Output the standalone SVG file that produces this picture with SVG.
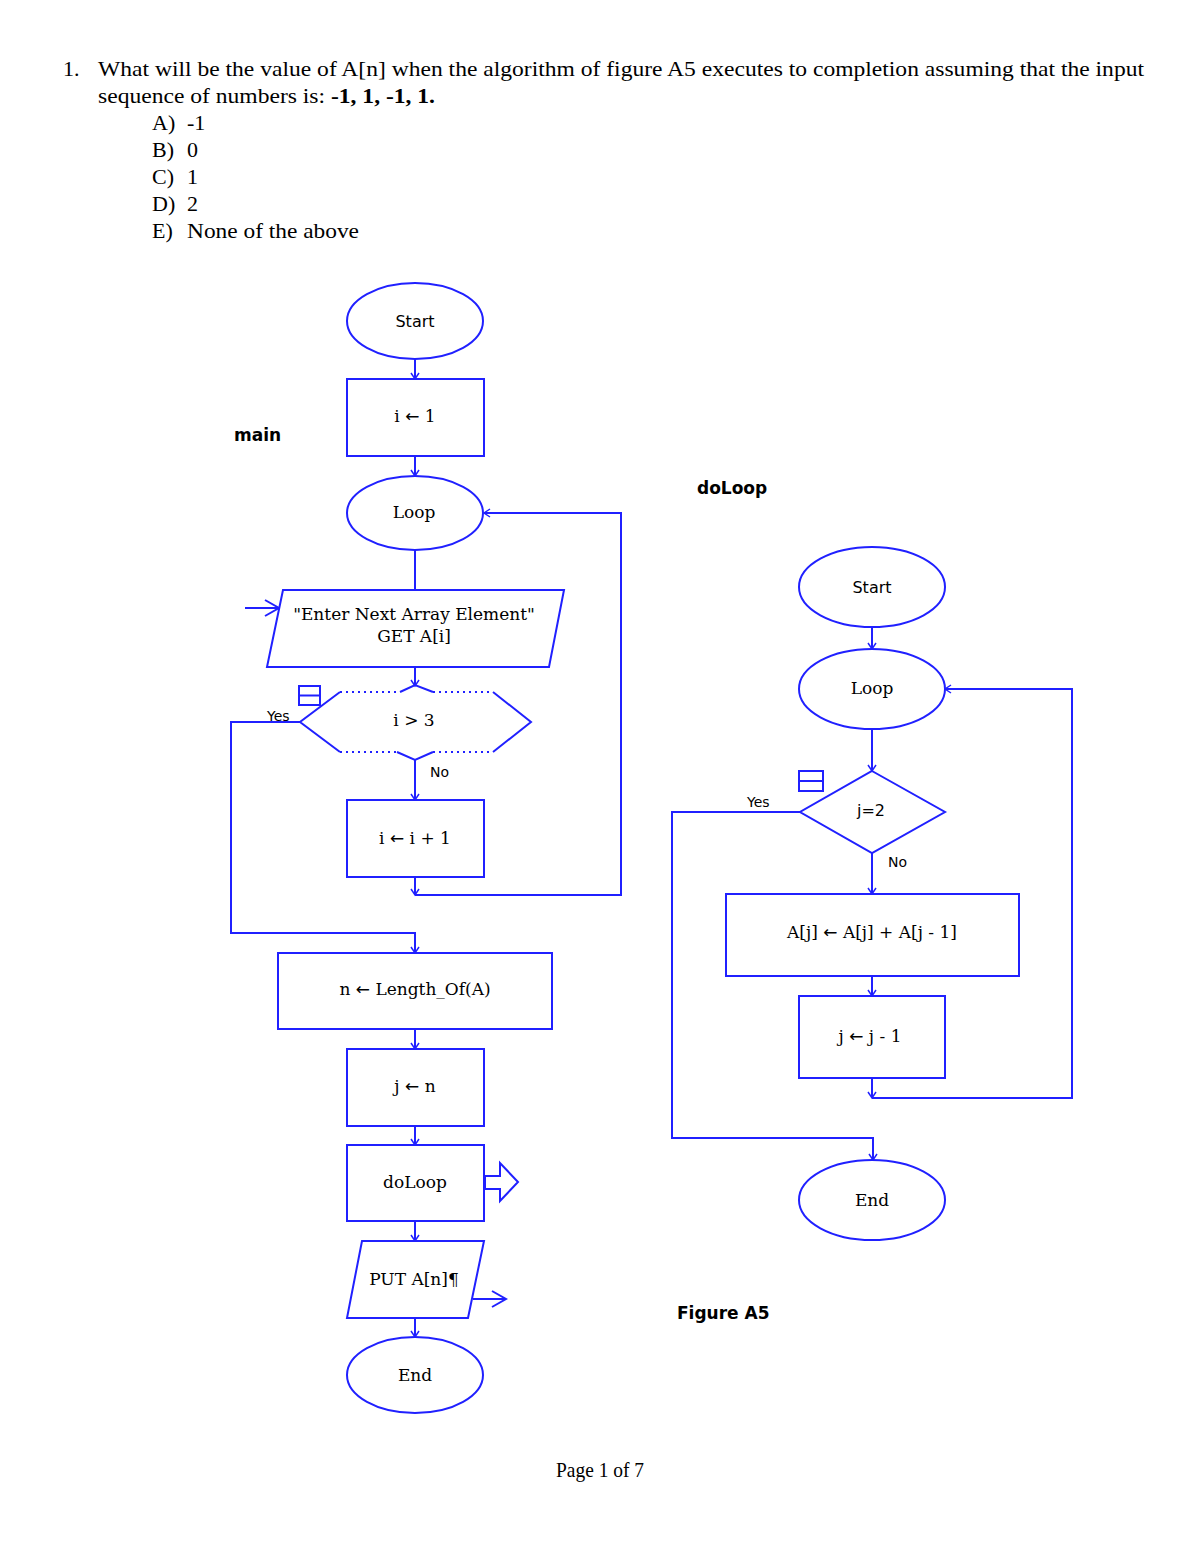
<svg xmlns="http://www.w3.org/2000/svg" width="1200" height="1553" viewBox="0 0 1200 1553">
<defs>
<style>
.s{fill:none;stroke:#2020ff;stroke-width:2}
.n{fill:#fff;stroke:#2020ff;stroke-width:2}
.c{fill:none;stroke:#2020ff;stroke-width:2}
.q{font-family:"Liberation Serif","Times New Roman",serif;font-size:22px;fill:#000}
.t{font-family:"DejaVu Serif","Liberation Serif",serif;font-size:17px;fill:#000;text-anchor:middle}
.a{font-family:"DejaVu Sans",sans-serif}
.v{font-family:"DejaVu Sans",Verdana,sans-serif;font-size:16px;fill:#000;text-anchor:middle}
.y{font-family:"DejaVu Sans",Verdana,sans-serif;font-size:14px;fill:#000}
.b{font-family:"DejaVu Sans",Verdana,sans-serif;font-size:17px;font-weight:bold;fill:#000}
</style>
<marker id="ah" markerWidth="12" markerHeight="12" refX="10" refY="6" orient="auto" markerUnits="userSpaceOnUse">
<path d="M4,2 L10,6 L4,10" fill="none" stroke="#2020ff" stroke-width="1.5"/>
</marker>
<marker id="oh" markerWidth="20" markerHeight="20" refX="18" refY="10" orient="auto" markerUnits="userSpaceOnUse">
<path d="M4,2 L18,10 L4,18" fill="none" stroke="#2020ff" stroke-width="2"/>
</marker>
</defs>
<rect width="1200" height="1553" fill="#fff"/>

<g id="question">
<text class="q" x="63" y="76">1.</text>
<text class="q" x="98" y="76" textLength="1046" lengthAdjust="spacingAndGlyphs">What will be the value of A[n] when the algorithm of figure A5 executes to completion assuming that the input</text>
<text class="q" x="98" y="103" textLength="337" lengthAdjust="spacingAndGlyphs">sequence of numbers is: <tspan font-weight="bold">-1, 1, -1, 1.</tspan></text>
<text class="q" x="152" y="130">A)</text><text class="q" x="187" y="130">-1</text>
<text class="q" x="152" y="157">B)</text><text class="q" x="187" y="157">0</text>
<text class="q" x="152" y="184">C)</text><text class="q" x="187" y="184">1</text>
<text class="q" x="152" y="211">D)</text><text class="q" x="187" y="211">2</text>
<text class="q" x="152" y="238">E)</text><text class="q" x="187" y="238" textLength="172" lengthAdjust="spacingAndGlyphs">None of the above</text>
</g>

<text class="b" x="234" y="441">main</text>
<text class="b" x="697" y="494">doLoop</text>
<text class="b" x="677" y="1319">Figure A5</text>
<text class="q" x="556" y="1477" font-size="18" textLength="88" lengthAdjust="spacingAndGlyphs">Page 1 of 7</text>

<g id="connectors">
<line class="c" x1="415" y1="359" x2="415" y2="379" marker-end="url(#ah)"/>
<line class="c" x1="415" y1="456" x2="415" y2="476" marker-end="url(#ah)"/>
<line class="c" x1="415" y1="550" x2="415" y2="590"/>
<line class="c" x1="415" y1="667" x2="415" y2="686" marker-end="url(#ah)"/>
<line class="c" x1="415" y1="760" x2="415" y2="800" marker-end="url(#ah)"/>
<polyline class="c" points="415,877 415,895" marker-end="url(#ah)"/>
<polyline class="c" points="415,895 621,895 621,513 484,513" marker-end="url(#ah)"/>
<polyline class="c" points="300,722 231,722 231,933 415,933 415,953" marker-end="url(#ah)"/>
<line class="c" x1="415" y1="1029" x2="415" y2="1049" marker-end="url(#ah)"/>
<line class="c" x1="415" y1="1126" x2="415" y2="1145" marker-end="url(#ah)"/>
<line class="c" x1="415" y1="1221" x2="415" y2="1241" marker-end="url(#ah)"/>
<line class="c" x1="415" y1="1318" x2="415" y2="1337" marker-end="url(#ah)"/>
<line class="c" x1="245" y1="608" x2="279" y2="608" marker-end="url(#oh)"/>
<line class="c" x1="473" y1="1299" x2="506" y2="1299" marker-end="url(#oh)"/>

<line class="c" x1="872" y1="627" x2="872" y2="649" marker-end="url(#ah)"/>
<line class="c" x1="872" y1="729" x2="872" y2="771" marker-end="url(#ah)"/>
<line class="c" x1="872" y1="853" x2="872" y2="894" marker-end="url(#ah)"/>
<line class="c" x1="872" y1="976" x2="872" y2="996" marker-end="url(#ah)"/>
<polyline class="c" points="872,1078 872,1098" marker-end="url(#ah)"/>
<polyline class="c" points="872,1098 1072,1098 1072,689 945,689" marker-end="url(#ah)"/>
<polyline class="c" points="800,812 672,812 672,1138 873,1138 873,1160" marker-end="url(#ah)"/>
</g>

<g id="m-start"><ellipse class="n" cx="415" cy="321" rx="68" ry="38"/><text class="v" x="415" y="327">Start</text></g>
<g id="m-init"><rect class="n" x="347" y="379" width="137" height="77"/><text class="t" x="415" y="422">i <tspan class="a">←</tspan> 1</text></g>
<g id="m-loop"><ellipse class="n" cx="415" cy="513" rx="68" ry="37"/><text class="t" x="414" y="518">Loop</text></g>
<g id="m-input"><polygon class="n" points="283,590 564,590 549,667 267,667"/><text class="t" x="414" y="620">"Enter Next Array Element"</text><text class="t" x="414" y="642">GET A[i]</text></g>
<g id="m-decision">
<path fill="#fff" stroke="none" d="M300,722 L340,692 L493,692 L531,722 L493,752 L340,752 Z"/>
<path class="s" d="M340,692 L300,722 L340,752 M493,692 L531,722 L493,752"/>
<path class="s" stroke-dasharray="2,4" d="M340,692 L400,692 M433,692 L493,692 M340,752 L397,752 M433,752 L493,752"/>
<path class="s" d="M400,692 L415,685 L433,692 M397,752 L415,760 L433,752"/>
<rect class="n" x="299" y="686" width="21" height="19"/><line class="s" x1="299" y1="695.5" x2="320" y2="695.5"/>
<text class="t" x="414" y="726">i &gt; 3</text>
<text class="y" x="267" y="721">Yes</text>
<text class="y" x="430" y="777">No</text>
</g>
<g id="m-inc"><rect class="n" x="347" y="800" width="137" height="77"/><text class="t" x="415" y="844">i <tspan class="a">←</tspan> i + 1</text></g>
<g id="m-len"><rect class="n" x="278" y="953" width="274" height="76"/><text class="t" x="415" y="995">n <tspan class="a">←</tspan> Length_Of(A)</text></g>
<g id="m-jn"><rect class="n" x="347" y="1049" width="137" height="77"/><text class="t" x="415" y="1092">j <tspan class="a">←</tspan> n</text></g>
<g id="m-doloop"><rect class="n" x="347" y="1145" width="137" height="76"/><text class="t" x="415" y="1188">doLoop</text>
<polygon class="n" points="485,1176 500,1176 500,1163 518,1182 500,1201 500,1189 485,1189"/></g>
<g id="m-put"><polygon class="n" points="362,1241 484,1241 468,1318 347,1318"/><text class="t" x="414" y="1285">PUT A[n]¶</text></g>
<g id="m-end"><ellipse class="n" cx="415" cy="1375" rx="68" ry="38"/><text class="t" x="415" y="1381">End</text></g>

<g id="d-start"><ellipse class="n" cx="872" cy="587" rx="73" ry="40"/><text class="v" x="872" y="593">Start</text></g>
<g id="d-loop"><ellipse class="n" cx="872" cy="689" rx="73" ry="40"/><text class="t" x="872" y="694">Loop</text></g>
<g id="d-decision"><polygon class="n" points="872,771 945,812 872,853 800,812"/>
<rect class="n" x="799" y="771" width="24" height="20"/><line class="s" x1="799" y1="781" x2="823" y2="781"/>
<text class="v" x="871" y="816">j=2</text>
<text class="y" x="747" y="807">Yes</text>
<text class="y" x="888" y="867">No</text></g>
<g id="d-add"><rect class="n" x="726" y="894" width="293" height="82"/><text class="t" x="872" y="938">A[j] <tspan class="a">←</tspan> A[j] + A[j - 1]</text></g>
<g id="d-dec"><rect class="n" x="799" y="996" width="146" height="82"/><text class="t" x="870" y="1042">j <tspan class="a">←</tspan> j - 1</text></g>
<g id="d-end"><ellipse class="n" cx="872" cy="1200" rx="73" ry="40"/><text class="t" x="872" y="1206">End</text></g>
</svg>
